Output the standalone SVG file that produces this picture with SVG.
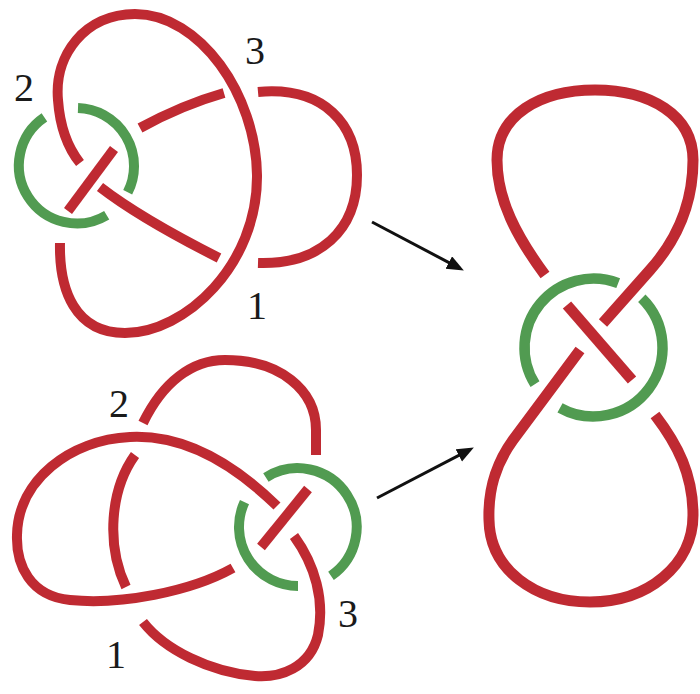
<svg xmlns="http://www.w3.org/2000/svg" width="700" height="694" viewBox="0 0 700 694">
<style>
.r{fill:none;stroke:#bf2a32;stroke-width:10;stroke-linecap:butt}
.g{fill:none;stroke:#519b51;stroke-width:10;stroke-linecap:butt}
.r8{fill:none;stroke:#bf2a32;stroke-width:11;stroke-linecap:butt}
.g8{fill:none;stroke:#519b51;stroke-width:10.5;stroke-linecap:butt}
.lbl{font-family:"Liberation Serif","Times New Roman",serif;font-size:40px;fill:#1a1a1a;text-anchor:middle}
.arr{stroke:#111;stroke-width:3;fill:none}
</style>
<defs>
<marker id="ah" markerUnits="userSpaceOnUse" markerWidth="18" markerHeight="16" refX="13" refY="7" orient="auto">
<path d="M0,0 L17,7 L0,14 z" fill="#111"/>
</marker>
</defs>
<g id="knot-top">
<path class="r" d="M60,243 C59,290 75,333 125,333 C185,333 258,265 257,175 C256,95 200,14 135,14 C85,14 54,55 58,100 C60,128 68,148 80,163"/>
<path class="r" d="M68,211 L114,149"/>
<path class="r" d="M140,128 Q182,105 224,93"/>
<path class="r" d="M258,92 C325,86 357,125 357,175 C357,230 320,265 258,263"/>
<path class="r" d="M100,187 Q140,218 219,258"/>
<path class="g" d="M78,108 A58,58 0 0 1 127.7,192.3"/>
<path class="g" d="M106.7,215.2 A58,58 0 0 1 44.4,117.4"/>
<text class="lbl" x="24" y="101">2</text>
<text class="lbl" x="255" y="64">3</text>
<text class="lbl" x="257" y="319">1</text>
</g>
<g id="knot-bottom">
<path class="r" d="M233,568 C190,592 120,605 70,600 C30,596 16,565 17,535 C18,480 70,440 130,437 C190,434 240,470 277,506"/>
<path class="r" d="M308,489 L261,547"/>
<path class="r" d="M294,536 C315,565 325,600 318,635 C310,668 280,678 255,676 C210,672 165,650 143,622"/>
<path class="r" d="M126,587 C106,545 110,490 135,455"/>
<path class="r" d="M143,423 C163,382 192,360 225,360 C280,360 316,390 316,430 L316,455"/>
<path class="g" d="M265.9,477.5 A59,59 0 0 1 331,575.9"/>
<path class="g" d="M298,586 A59,59 0 0 1 244.5,502.1"/>
<text class="lbl" x="119" y="417">2</text>
<text class="lbl" x="116" y="668">1</text>
<text class="lbl" x="348" y="627">3</text>
</g>
<g id="figure-eight">
<path class="r8" d="M603,323 L650,270 C675,242 693,205 693,160 C693,115 650,90 595,90 C540,90 497,115 497,160 C497,200 517,237 545,275"/>
<path class="r8" d="M567,305 L632,380"/>
<path class="r8" d="M580,350 L513,440 C495,465 488,490 489,520 C490,570 535,602 590,602 C648,602 693,565 693,515 C693,475 678,445 655,415"/>
<path class="g8" d="M535,384.1 A69,69 0 0 1 618.2,283.1"/>
<path class="g8" d="M641.8,298.2 A69,69 0 0 1 560,407.8"/>
</g>
<g id="connectors">
<line class="arr" x1="372" y1="222" x2="460.3" y2="268.6" marker-end="url(#ah)"/>
<line class="arr" x1="377" y1="498" x2="470.3" y2="449.4" marker-end="url(#ah)"/>
</g>
</svg>
